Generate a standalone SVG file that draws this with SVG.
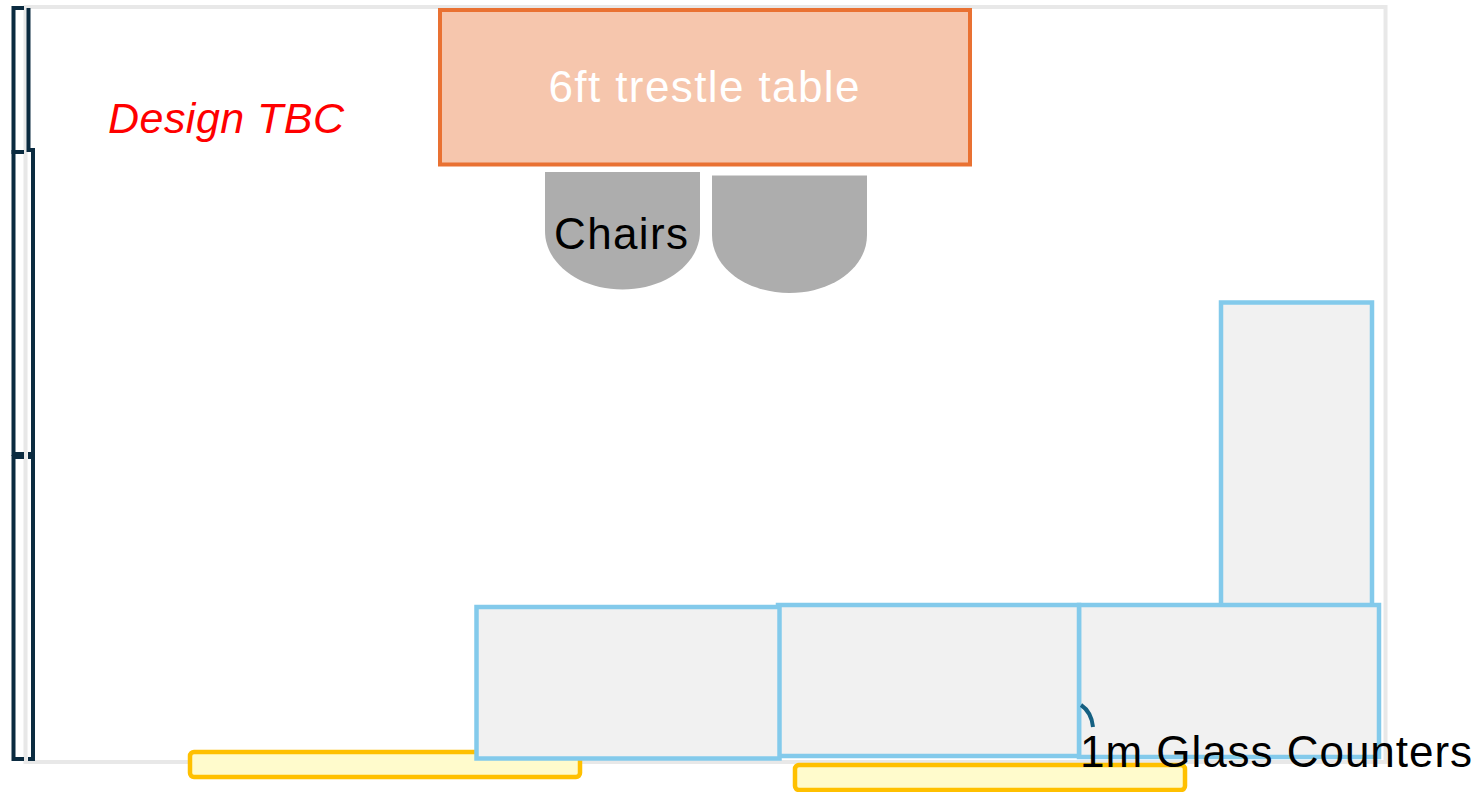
<svg xmlns="http://www.w3.org/2000/svg" width="1478" height="792" viewBox="0 0 1478 792">
<style>
.counter{fill:#f1f1f1;stroke:#83caeb;stroke-width:4.500}
.mat{fill:#fffbcc;stroke:#ffc000;stroke-width:4.500}
.chair{fill:#adadad}
.brk{fill:none;stroke:#0b2b40;stroke-width:4}
text{font-family:"Liberation Sans",Arial,sans-serif}
</style>
<rect width="1478" height="792" fill="#fff"/>
<g id="room"><rect x="25.500" y="7" width="1360" height="755" fill="#fff" stroke="#e8e8e8" stroke-width="4"/></g>
<g id="brackets">
<path class="brk" d="M24 8H13.500V152H24"/>
<path class="brk" d="M28.500 8V152"/>
<path class="brk" d="M28 150H33V454H28"/>
<path class="brk" d="M24 152H13.500V454H24"/>
<path class="brk" d="M24 457H13.500V759H24"/>
<path class="brk" d="M28 457H33V759H28"/>
</g>
<g id="mat-left"><rect class="mat" x="190" y="752" width="390" height="25" rx="4"/></g>
<g id="mat-right"><rect class="mat" x="795" y="765" width="390" height="25" rx="4"/></g>
<g id="table"><rect x="440" y="10" width="530" height="154.500" fill="#f6c6ad" stroke="#e97132" stroke-width="4"/>
<text x="704" y="102" font-size="44" fill="#fff" text-anchor="middle" textLength="311" lengthAdjust="spacing">6ft trestle table</text></g>
<g id="design-tbc"><text x="108" y="133" font-size="43" font-style="italic" fill="#f00" textLength="236" lengthAdjust="spacing">Design TBC</text></g>
<g id="chair-1"><path class="chair" d="M545 172H700V231C700 264 665 289.500 622.500 289.500S545 264 545 231Z"/>
<text x="621" y="249" font-size="44" fill="#000" text-anchor="middle" textLength="134" lengthAdjust="spacing">Chairs</text></g>
<g id="chair-2"><path class="chair" d="M712 175.500H867V235C867 268 832 293 789.500 293S712 268 712 235Z"/></g>
<g id="counter-right"><rect class="counter" x="1221" y="302.500" width="151" height="303"/></g>
<g id="counter-3"><rect class="counter" x="1079" y="605" width="300" height="152"/></g>
<g id="counter-2"><rect class="counter" x="778" y="605" width="301" height="151"/></g>
<g id="counter-1"><rect class="counter" x="476.500" y="607" width="303" height="151.500"/></g>
<g id="connectors"><path d="M1081 705C1087 709 1092 717 1093 727" fill="none" stroke="#156082" stroke-width="4"/></g>
<g id="label"><text x="1080" y="767" font-size="44" fill="#000" textLength="392" lengthAdjust="spacing">1m Glass Counters</text></g>
</svg>
